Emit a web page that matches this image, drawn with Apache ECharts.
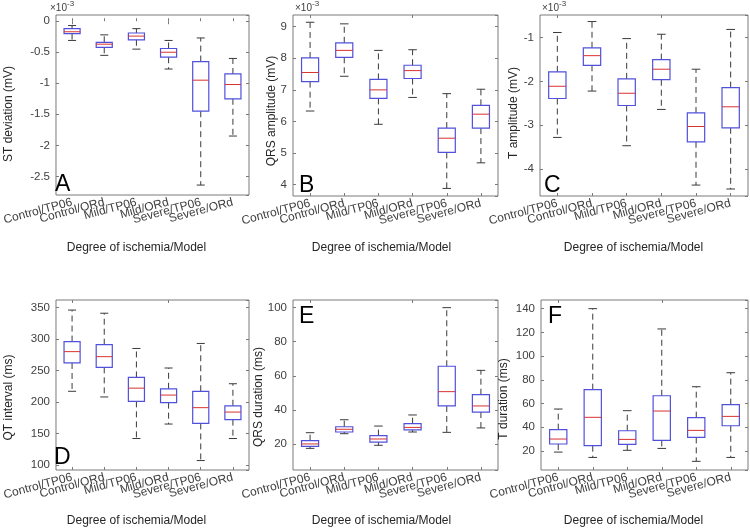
<!DOCTYPE html>
<html>
<head>
<meta charset="utf-8">
<script src="https://cdn.jsdelivr.net/npm/echarts@6/dist/echarts.min.js"></script>
<style>html,body{margin:0;padding:0;background:#fff}#c{width:750px;height:528px}</style>
</head>
<body>
<div id="c"></div>
<script>
// Categories
const categories = ['Control/TP06','Control/ORd','Mild/TP06','Mild/ORd','Severe/TP06','Severe/ORd'];
// Each row: [lower whisker, Q1, median, Q3, upper whisker]
// ST deviation (mV), x10^-3
const stDeviation = [
  [-0.31,-0.20,-0.17,-0.12,-0.07],
  [-0.55,-0.42,-0.37,-0.34,-0.22],
  [-0.45,-0.30,-0.24,-0.19,-0.12],
  [-0.77,-0.58,-0.50,-0.44,-0.31],
  [-2.64,-1.45,-0.95,-0.65,-0.27],
  [-1.85,-1.25,-1.02,-0.85,-0.60]
];
// QRS amplitude (mV), x10^-3
const qrsAmplitude = [
  [6.33,7.26,7.55,8.01,9.14],
  [7.43,8.03,8.25,8.49,9.09],
  [5.91,6.73,7.00,7.33,8.25],
  [6.76,7.36,7.61,7.78,8.27],
  [3.88,5.02,5.47,5.79,6.88],
  [4.69,5.79,6.23,6.51,7.02]
];
// T amplitude (mV), x10^-3
const tAmplitude = [
  [-3.28,-2.39,-2.11,-1.78,-0.88],
  [-2.22,-1.63,-1.41,-1.23,-0.63],
  [-3.47,-2.55,-2.27,-1.94,-1.02],
  [-2.64,-1.96,-1.72,-1.50,-0.92],
  [-4.37,-3.38,-3.03,-2.72,-1.72],
  [-4.46,-3.06,-2.58,-2.14,-0.81]
];
// QT interval (ms)
const qtInterval = [
  [217,262,280,296,346],
  [208,255,272,291,341],
  [142,201,222,239,285],
  [165,199,211,221,254],
  [107,166,191,217,293],
  [142,172,184,194,229]
];
// QRS duration (ms)
const qrsDuration = [
  [17.4,18.6,20.0,21.9,26.6],
  [26.0,27.0,28.6,30.1,34.2],
  [19.2,21.1,22.9,24.9,30.5],
  [27.0,28.2,29.7,31.9,37.0],
  [26.8,42.3,50.7,65.6,100.0],
  [29.4,38.7,42.3,48.9,63.2]
];
// T duration (ms)
const tDuration = [
  [19.1,25.9,30.1,38.0,55.4],
  [14.6,24.5,48.4,71.7,140.0],
  [20.6,25.6,29.8,37.1,54.0],
  [22.2,28.9,53.7,66.6,122.9],
  [11.3,31.5,37.4,48.1,74.2],
  [14.6,41.3,49.2,59.1,86.0]
];
const yTitles = ['ST deviation (mV)','QRS amplitude (mV)','T amplitude (mV)','QT interval (ms)','QRS duration (ms)','T duration (ms)'];
const panelLetters = ['A','B','C','D','E','F'];
const xTitle = 'Degree of ischemia/Model';

// Layout (positions/styles)
const layout = [
  {data: stDeviation,  min:-2.8, max:0.1,   split:5, grid:[48,15,201,180],  yt:[8.5,114], xt:[136.5,247.5], letter:[55,186], exp:true},
  {data: qrsAmplitude, min:3.64, max:9.37,  split:5, grid:[293,15,205,181], yt:[272,111], xt:[381.5,247.5], letter:[299,187], exp:true},
  {data: tAmplitude,   min:-4.62,max:-0.48, split:5, grid:[540,15,208,181], yt:[514,113], xt:[633.5,247.5], letter:[544,187], exp:true},
  {data: qtInterval,   min:92,   max:362,   split:5, grid:[48,300,201,170], yt:[9,397.5], xt:[136.5,521], letter:[54,459], exp:false},
  {data: qrsDuration,  min:4.7,  max:104.5, split:5, grid:[293,300,205,170],yt:[258.5,397], xt:[381.5,521], letter:[299,318], exp:false},
  {data: tDuration,    min:4,    max:147.3, split:7, grid:[541,300,207,170],yt:[504,399], xt:[633.5,521], letter:[548,318], exp:false}
];

const FONT = 'Liberation Sans, Arial, Helvetica, sans-serif';
const TXT = '#404040';
const TITLE = '#262626';
const FRAME = '#7a7a7a';
const BOX = '#5050dc';
const MED = '#d83232';
const WHISK = '#3a3a3a';

function renderBox(params, api) {
  const x = api.value(0);
  const lo = api.coord([x, api.value(1)]);
  const q1 = api.coord([x, api.value(2)]);
  const md = api.coord([x, api.value(3)]);
  const q3 = api.coord([x, api.value(4)]);
  const hi = api.coord([x, api.value(5)]);
  const band = api.size([1, 0])[0];
  const bw = band * 0.5;
  const cw = bw * 0.5;
  const cx = lo[0];
  const dash = {stroke: WHISK, lineWidth: 1, lineDash: [6, 4]};
  const solid = {stroke: WHISK, lineWidth: 1};
  return {
    type: 'group',
    children: [
      {type:'line', shape:{x1:cx,y1:q3[1],x2:cx,y2:hi[1]}, style:dash},
      {type:'line', shape:{x1:cx,y1:q1[1],x2:cx,y2:lo[1]}, style:dash},
      {type:'line', shape:{x1:cx-cw/2,y1:hi[1],x2:cx+cw/2,y2:hi[1]}, style:solid},
      {type:'line', shape:{x1:cx-cw/2,y1:lo[1],x2:cx+cw/2,y2:lo[1]}, style:solid},
      {type:'rect', shape:{x:cx-bw/2,y:q3[1],width:bw,height:q1[1]-q3[1]}, style:{fill:'none',stroke:BOX,lineWidth:1.2}},
      {type:'line', shape:{x1:cx-bw/2,y1:md[1],x2:cx+bw/2,y2:md[1]}, style:{stroke:MED,lineWidth:1}}
    ]
  };
}

const grids = [], xAxes = [], yAxes = [], series = [], graphics = [];
layout.forEach((p, i) => {
  const [l, t, w, h] = p.grid;
  grids.push({left:l, top:t, width:w, height:h, show:true, borderColor:FRAME, borderWidth:1, backgroundColor:'#fff', containLabel:false});
  const tick = {show:true, inside:true, length:3, alignWithLabel:true, lineStyle:{color:FRAME}};
  xAxes.push({
    type:'category', gridIndex:i, data:categories, position:'bottom', boundaryGap:true,
    axisLine:{show:false}, axisTick:tick,
    axisLabel:{rotate:15, interval:0, margin:7, color:TXT, fontSize:12, fontFamily:FONT},
    splitLine:{show:false}
  });
  xAxes.push({
    type:'category', gridIndex:i, data:categories, position:'top', boundaryGap:true,
    axisLine:{show:false}, axisTick:tick, axisLabel:{show:false}, splitLine:{show:false}
  });
  const ytick = {show:true, inside:true, length:3, lineStyle:{color:FRAME}};
  yAxes.push({
    type:'value', gridIndex:i, position:'left', min:p.min, max:p.max, splitNumber:p.split,
    axisLine:{show:false}, axisTick:ytick, splitLine:{show:false},
    axisLabel:{showMinLabel:false, showMaxLabel:false, color:TXT, fontSize:11.5, fontFamily:FONT, margin:6}
  });
  yAxes.push({
    type:'value', gridIndex:i, position:'right', min:p.min, max:p.max, splitNumber:p.split,
    axisLine:{show:false}, axisTick:ytick, splitLine:{show:false}, axisLabel:{show:false}
  });
  series.push({
    type:'custom', xAxisIndex:2*i, yAxisIndex:2*i, renderItem:renderBox,
    encode:{x:0, y:[1,2,3,4,5]},
    data:p.data.map((r, k) => [k].concat(r)),
    silent:true, animation:false
  });
  // axis titles (rotated to read bottom-to-top)
  graphics.push({type:'text', x:p.yt[0], y:p.yt[1], rotation:Math.PI/2,
    style:{text:yTitles[i], fontSize:12, fontFamily:FONT, fill:TITLE, align:'center', verticalAlign:'middle'}});
  graphics.push({type:'text', x:p.xt[0], y:p.xt[1],
    style:{text:xTitle, fontSize:12, fontFamily:FONT, fill:TITLE, align:'center', verticalAlign:'middle'}});
  // panel letter
  graphics.push({type:'text', left:p.letter[0], top:p.letter[1]-13, style:{text:panelLetters[i], fontSize:23, fontFamily:FONT, fill:'#000'}});
  if (p.exp) {
    graphics.push({type:'text', left:l+2, top:t-12, style:{text:'×10', fontSize:10, fontFamily:FONT, fill:TXT}});
    graphics.push({type:'text', left:l+19, top:t-15, style:{text:'-3', fontSize:8, fontFamily:FONT, fill:TXT}});
  }
});

const chart = echarts.init(document.getElementById('c'), null, {renderer:'canvas'});
chart.setOption({
  animation:false,
  backgroundColor:'#fff',
  grid:grids, xAxis:xAxes, yAxis:yAxes, series:series, graphic:graphics
});
</script>
</body>
</html>
